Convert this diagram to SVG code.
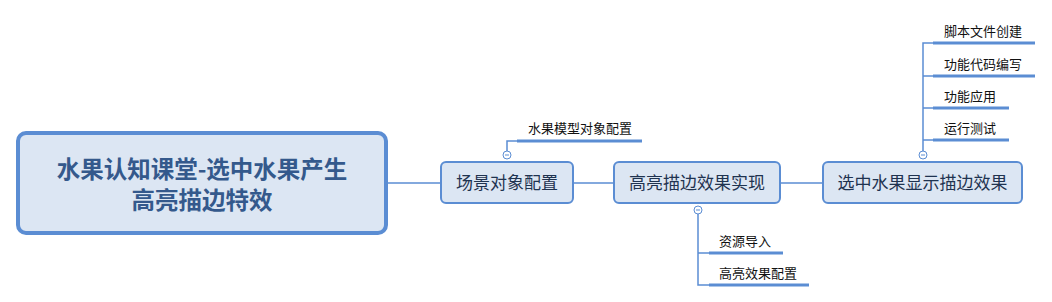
<svg xmlns="http://www.w3.org/2000/svg" width="1052" height="302" viewBox="0 0 1052 302">
<style>
.node rect{fill:#dce6f3;stroke:#5b8dd3;stroke-width:2}
.root rect{fill:#dce6f3;stroke:#5b8dd3;stroke-width:4}
.nt{font-family:"Noto Sans CJK SC",sans-serif;font-size:17px;fill:#1f3350;text-anchor:middle}
.rt{font-family:"Noto Sans CJK SC",sans-serif;font-size:23.5px;font-weight:bold;fill:#34598c;text-anchor:middle}
.bt{font-family:"Noto Sans CJK SC",sans-serif;font-size:13px;fill:#111}
.ln{fill:none;stroke:#5b8dd3;stroke-width:1.5}
.ul{fill:none;stroke:#5b8dd3;stroke-width:3}
.cc{fill:#fff;stroke:#5b8dd3;stroke-width:1}
.cm{stroke:#5b8dd3;stroke-width:1}
</style>
<g id="connectors">
<path class="ln" d="M386 183H441M573 183H614M780 183H823"/>
<path class="ln" d="M507 151V141H517"/>
<path class="ul" d="M517 141H642"/>
<path class="ln" d="M698 214V285H709M698 253H709"/>
<path class="ul" d="M709 253H783M709 285H809"/>
<path class="ln" d="M923 151V43H933M923 76H933M923 108H933M923 140H933"/>
<path class="ul" d="M933 43H1035M933 76H1035M933 108H1009M933 140H1009"/>
<circle class="cc" cx="507" cy="155" r="4"/><path class="cm" d="M505 155H509"/>
<circle class="cc" cx="698" cy="210" r="4"/><path class="cm" d="M696 210H700"/>
<circle class="cc" cx="923" cy="155" r="4"/><path class="cm" d="M921 155H925"/>
</g>
<g id="root" class="root">
<rect x="18" y="133" width="368" height="100" rx="8"/>
<text class="rt" x="202" y="178">水果认知课堂-选中水果产生</text>
<text class="rt" x="202" y="209">高亮描边特效</text>
</g>
<g id="n1" class="node">
<rect x="441" y="162" width="132" height="41" rx="5"/>
<text class="nt" x="507" y="189">场景对象配置</text>
</g>
<g id="n2" class="node">
<rect x="614" y="162" width="166" height="41" rx="5"/>
<text class="nt" x="697" y="189">高亮描边效果实现</text>
</g>
<g id="n3" class="node">
<rect x="823" y="162" width="199" height="41" rx="5"/>
<text class="nt" x="922.500" y="189">选中水果显示描边效果</text>
</g>
<g id="b1"><text class="bt" x="528" y="133">水果模型对象配置</text></g>
<g id="b2"><text class="bt" x="719" y="246">资源导入</text></g>
<g id="b3"><text class="bt" x="719" y="278">高亮效果配置</text></g>
<g id="b4"><text class="bt" x="944" y="36">脚本文件创建</text></g>
<g id="b5"><text class="bt" x="944" y="69">功能代码编写</text></g>
<g id="b6"><text class="bt" x="944" y="101">功能应用</text></g>
<g id="b7"><text class="bt" x="944" y="133">运行测试</text></g>
</svg>
